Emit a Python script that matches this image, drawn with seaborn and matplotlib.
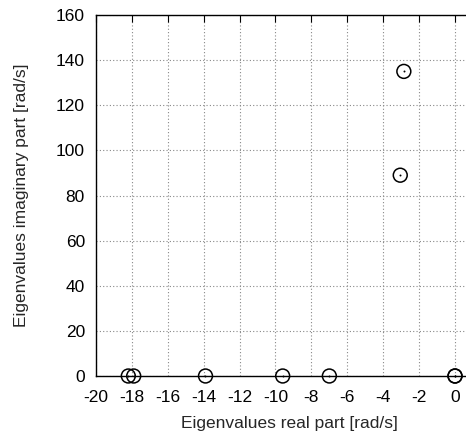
import matplotlib
matplotlib.use("Agg")
import matplotlib.pyplot as plt
import seaborn as sns
import pandas as pd

real_part = [-18.2, -17.9, -13.9, -9.6, -7.0, 0.0, 0.0, -3.05, -2.85]
imag_part = [0.0, 0.0, 0.0, 0.0, 0.0, 0.0, 0.0, 89.0, 135.0]
x_ticks = list(range(-20, 1, 2))
y_ticks = list(range(0, 161, 20))

df = pd.DataFrame({"re": real_part, "im": imag_part})

sns.set_style("white")
plt.rcParams['font.family'] = ['Liberation Sans', 'DejaVu Sans']
plt.rcParams['axes.unicode_minus'] = False

W, H = 466, 437
left, bottom, top = 96, 376, 15
px_per_unit = (455 - 96) / 20.0
x_max = 1.5
right = 455 + x_max * px_per_unit

fig = plt.figure(figsize=(W / 100, H / 100), dpi=100)
ax = fig.add_axes([left / W, 1 - bottom / H, (right - left) / W, (bottom - top) / H])

sns.scatterplot(data=df, x="re", y="im", ax=ax, marker="o", s=100,
                facecolors="none", edgecolor="black", linewidth=1.1,
                clip_on=False, zorder=5)
sns.scatterplot(data=df, x="re", y="im", ax=ax, marker="o", s=2,
                color="black", linewidth=0, clip_on=False, zorder=6)

ax.set_xlim(-20, x_max)
ax.set_ylim(0, 160)
ax.set_xticks(x_ticks)
ax.set_yticks(y_ticks)
ax.grid(True, color="#888888", linestyle=(0, (1, 2)), linewidth=0.8)
ax.set_axisbelow(True)
for s in ax.spines.values():
    s.set_color("black")
    s.set_linewidth(1.0)
    s.set_visible(True)
ax.tick_params(direction="in", length=5, width=0.8, top=True, right=True,
               labelsize=12.5, colors="black")
ax.tick_params(axis="x", pad=10)
ax.tick_params(axis="y", pad=8)
ax.set_xlabel("Eigenvalues real part [rad/s]", fontsize=12.5, labelpad=8)
ax.set_ylabel("Eigenvalues imaginary part [rad/s]", fontsize=12.5, labelpad=19)

fig.savefig("out.png", dpi=100)
